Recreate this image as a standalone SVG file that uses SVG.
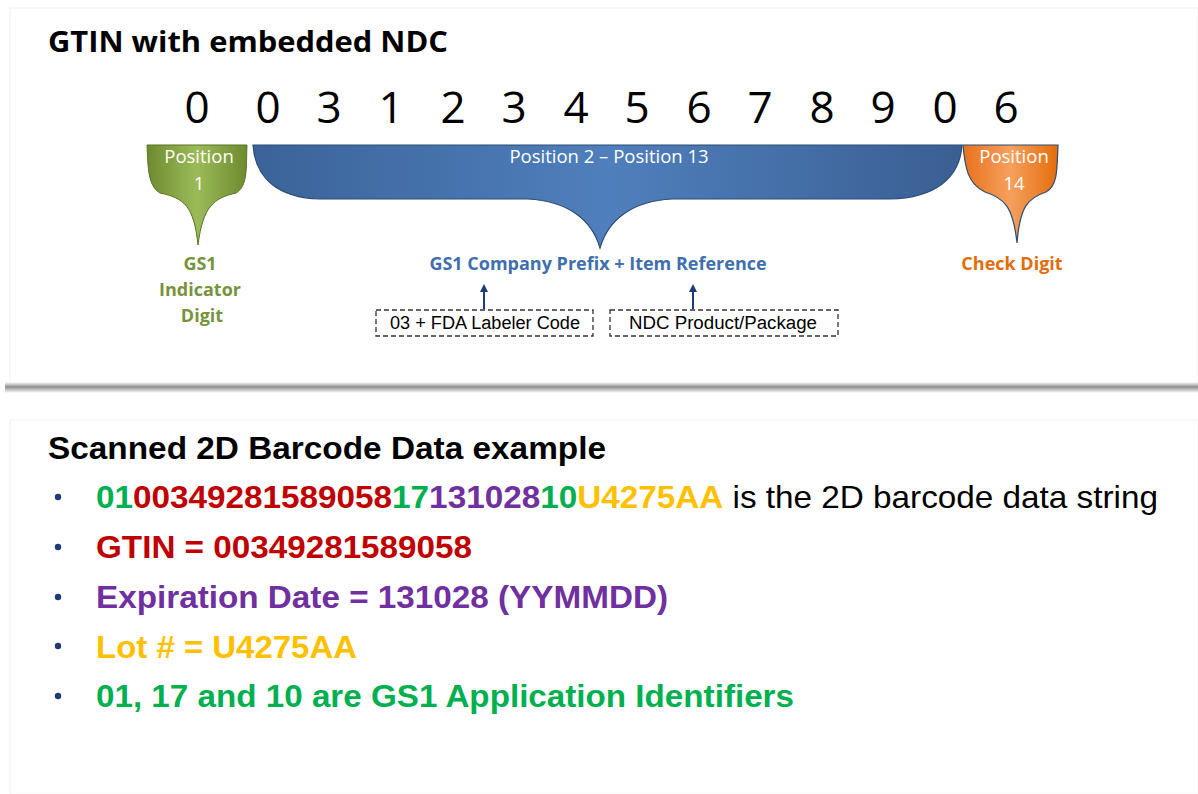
<svg xmlns="http://www.w3.org/2000/svg" width="1198" height="794" viewBox="0 0 1198 794">
<defs>
<style>
.cal{font-family:"Open Sans","Liberation Sans",sans-serif}
.ar{font-family:"Liberation Sans",Arial,sans-serif}
.title{font-weight:bold;font-size:29px;fill:#000}
.digit{font-size:44px;fill:#000;text-anchor:middle}
.pos{font-size:18.5px;fill:#ffffff;text-anchor:middle}
.lbl{font-weight:bold;font-size:18px;text-anchor:middle}
.box{fill:none;stroke:#333;stroke-width:1.3;stroke-dasharray:5,3}
.boxt{font-size:18px;fill:#000;text-anchor:middle}
.big{font-weight:bold;font-size:32px}
.arr{stroke:#1f3a7a;stroke-width:2;fill:none}
</style>
<linearGradient id="gGreen" x1="0" y1="0" x2="1" y2="0">
<stop offset="0" stop-color="#6e8a2f"/><stop offset="0.5" stop-color="#9bbb59"/><stop offset="1" stop-color="#6e8a2f"/>
</linearGradient>
<linearGradient id="gBlue" x1="0" y1="0" x2="1" y2="0">
<stop offset="0" stop-color="#3b6399"/><stop offset="0.5" stop-color="#4f7fbc"/><stop offset="1" stop-color="#3a5f93"/>
</linearGradient>
<linearGradient id="gOrange" x1="0" y1="0" x2="1" y2="0">
<stop offset="0" stop-color="#e8711b"/><stop offset="0.5" stop-color="#f6a05e"/><stop offset="1" stop-color="#e46c0a"/>
</linearGradient>
<linearGradient id="shadow" x1="0" y1="0" x2="0" y2="1">
<stop offset="0" stop-color="#ffffff"/><stop offset="0.45" stop-color="#8f8f8f"/><stop offset="1" stop-color="#ffffff"/>
</linearGradient>
<marker id="ah" markerWidth="8" markerHeight="8" refX="4" refY="4" orient="auto" markerUnits="userSpaceOnUse">
<path d="M0,0 L8,4 L0,8 z" fill="#1f3a7a"/>
</marker>
</defs>
<rect x="0" y="0" width="1198" height="794" fill="#ffffff"/>
<rect x="10" y="8" width="1188" height="376" fill="#ffffff" stroke="#f0f0f0" stroke-width="1"/>
<rect x="5" y="382" width="1193" height="11" fill="url(#shadow)"/>
<rect x="10" y="420" width="1188" height="374" fill="#ffffff" stroke="#f2f2f2" stroke-width="1"/>

<text class="cal title" x="48" y="52" textLength="400" lengthAdjust="spacingAndGlyphs">GTIN with embedded NDC</text>

<g id="digits" class="cal">
<text class="digit" x="197" y="123">0</text>
<text class="digit" x="268" y="123">0</text>
<text class="digit" x="329" y="123">3</text>
<text class="digit" x="391" y="123">1</text>
<text class="digit" x="453" y="123">2</text>
<text class="digit" x="514" y="123">3</text>
<text class="digit" x="576" y="123">4</text>
<text class="digit" x="637" y="123">5</text>
<text class="digit" x="699" y="123">6</text>
<text class="digit" x="760" y="123">7</text>
<text class="digit" x="822" y="123">8</text>
<text class="digit" x="883" y="123">9</text>
<text class="digit" x="945" y="123">0</text>
<text class="digit" x="1006" y="123">6</text>
</g>

<g id="pos1">
<path d="M147,145 H247 C246,168 248,186 236,193 C214,198 203,206 198,245 C194,206 184,198 160,193 C148,186 148,168 147,145 Z" fill="url(#gGreen)" stroke="#5a7326" stroke-width="1"/>
<text class="cal pos" x="199" y="163">Position</text>
<text class="cal pos" x="199" y="190">1</text>
</g>

<g id="pos2-13">
<path d="M253,145 H962 C960,178 935,198 890,199 H672 C632,201 608,220 600,248 C592,220 568,201 528,199 H320 C278,198 255,178 253,145 Z" fill="url(#gBlue)" stroke="#2c4d75" stroke-width="1.2"/>
<text class="cal pos" x="609" y="163">Position 2 – Position 13</text>
</g>

<g id="pos14">
<path d="M963,145 H1058 C1057,168 1058,186 1046,192 C1028,198 1020,206 1017,243 C1013,206 1004,198 985,192 C968,184 965,168 963,145 Z" fill="url(#gOrange)" stroke="#2c4d75" stroke-width="1.2"/>
<text class="cal pos" x="1014" y="163">Position</text>
<text class="cal pos" x="1014" y="190">14</text>
</g>

<g id="labels">
<text class="cal lbl" x="200" y="270" fill="#77933c">GS1</text>
<text class="cal lbl" x="200" y="296" fill="#77933c">Indicator</text>
<text class="cal lbl" x="202" y="322" fill="#77933c">Digit</text>
<text class="cal lbl" x="598" y="270" fill="#3f6fae">GS1 Company Prefix + Item Reference</text>
<text class="cal lbl" x="1012" y="270" fill="#e46c0a">Check Digit</text>
</g>

<g id="labeler">
<rect class="box" x="376" y="310" width="217" height="26"/>
<text class="ar boxt" x="485" y="329" textLength="190" lengthAdjust="spacingAndGlyphs">03 + FDA Labeler Code</text>
</g>
<g id="ndc">
<rect class="box" x="610" y="310" width="228" height="26"/>
<text class="ar boxt" x="723" y="329" textLength="188" lengthAdjust="spacingAndGlyphs">NDC Product/Package</text>
</g>

<g id="connectors">
<line class="arr" x1="484" y1="309" x2="484" y2="288" marker-end="url(#ah)"/>
<line class="arr" x1="693" y1="309" x2="693" y2="288" marker-end="url(#ah)"/>
</g>

<text class="ar big" x="48" y="459" fill="#000" textLength="558" lengthAdjust="spacingAndGlyphs">Scanned 2D Barcode Data example</text>

<g id="bullets" class="ar">
<circle cx="58" cy="497" r="3.2" fill="#1f3a7a"/>
<circle cx="58" cy="547" r="3.2" fill="#1f3a7a"/>
<circle cx="58" cy="597" r="3.2" fill="#1f3a7a"/>
<circle cx="58" cy="646" r="3.2" fill="#1f3a7a"/>
<circle cx="58" cy="696" r="3.2" fill="#1f3a7a"/>
<text x="96" y="508" font-size="32" textLength="1062" lengthAdjust="spacingAndGlyphs"><tspan font-weight="bold" fill="#00b050">01</tspan><tspan font-weight="bold" fill="#c00000">00349281589058</tspan><tspan font-weight="bold" fill="#00b050">17</tspan><tspan font-weight="bold" fill="#7030a0">131028</tspan><tspan font-weight="bold" fill="#00b050">10</tspan><tspan font-weight="bold" fill="#ffc000">U4275AA</tspan><tspan fill="#000"> is the 2D barcode data string</tspan></text>
<text class="big" x="96" y="558" fill="#c00000" textLength="376" lengthAdjust="spacingAndGlyphs">GTIN = 00349281589058</text>
<text class="big" x="96" y="608" fill="#7030a0" textLength="572" lengthAdjust="spacingAndGlyphs">Expiration Date = 131028 (YYMMDD)</text>
<text class="big" x="96" y="658" fill="#ffc000" textLength="261" lengthAdjust="spacingAndGlyphs">Lot # = U4275AA</text>
<text class="big" x="96" y="707" fill="#00b050" textLength="698" lengthAdjust="spacingAndGlyphs">01, 17 and 10 are GS1 Application Identifiers</text>
</g>
</svg>
